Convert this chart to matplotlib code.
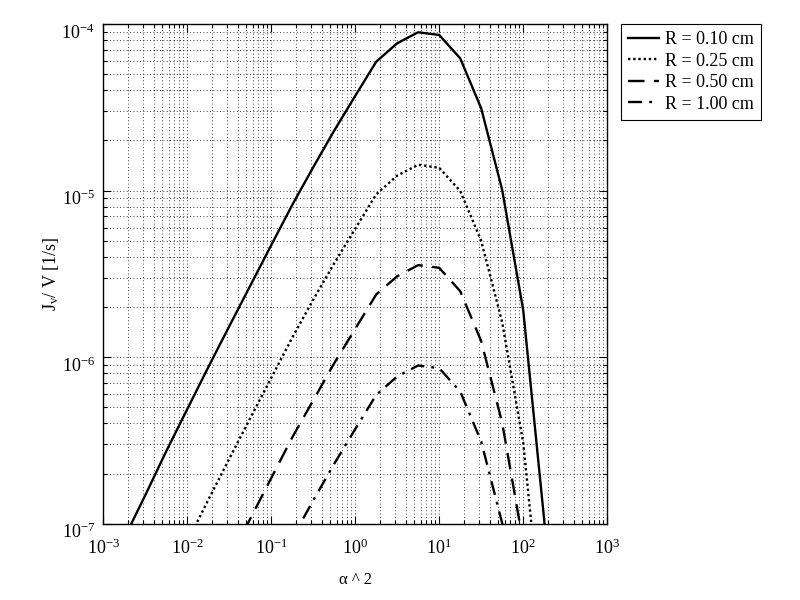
import numpy as np
import matplotlib.pyplot as plt
import matplotlib.transforms as mtransforms
from matplotlib.ticker import LogLocator, NullFormatter

plt.rcParams['font.family'] = ['Liberation Serif', 'DejaVu Serif']
plt.rcParams['mathtext.fontset'] = 'custom'
plt.rcParams['mathtext.rm'] = 'Liberation Serif'
plt.rcParams['mathtext.it'] = 'Liberation Serif:italic'

# =============================
# Data
# =============================

alpha2 = [1.0e-3, 1.78e-3, 3.16e-3, 5.62e-3,
          1.0e-2, 1.78e-2, 3.16e-2, 5.62e-2,
          1.0e-1, 1.78e-1, 3.16e-1, 5.62e-1,
          1.0, 1.78, 3.16, 5.62,
          10.0, 17.8, 31.6, 56.2,
          100.0, 178.0, 316.0]

jv_r010 = [4.6e-8, 8.2e-8, 1.48e-7, 2.72e-7, 4.87e-7, 8.7e-7, 1.53e-6, 2.68e-6,
           4.7e-6, 8.2e-6, 1.38e-5, 2.29e-5, 3.7e-5, 5.94e-5, 7.66e-5, 8.92e-5,
           8.59e-5, 6.22e-5, 3.12e-5, 1.01e-5, 1.92e-6, 1.05e-7, 1e-9]

jv_r025 = [7.4e-9, 1.31e-8, 2.37e-8, 4.35e-8, 7.8e-8, 1.39e-7, 2.45e-7, 4.3e-7,
           7.5e-7, 1.31e-6, 2.21e-6, 3.66e-6, 5.9e-6, 9.5e-6, 1.23e-5, 1.43e-5,
           1.37e-5, 9.95e-6, 5.0e-6, 1.62e-6, 3.07e-7, 1.7e-8, 1.6e-10]

jv_r050 = [1.84e-9, 3.3e-9, 5.9e-9, 1.09e-8, 1.95e-8, 3.5e-8, 6.1e-8, 1.07e-7,
           1.88e-7, 3.3e-7, 5.5e-7, 9.2e-7, 1.48e-6, 2.38e-6, 3.06e-6, 3.57e-6,
           3.44e-6, 2.49e-6, 1.25e-6, 4.04e-7, 7.7e-8, 4.2e-9, 4e-11]

jv_r100 = [4.6e-10, 8.2e-10, 1.48e-9, 2.72e-9, 4.87e-9, 8.7e-9, 1.53e-8, 2.68e-8,
           4.7e-8, 8.2e-8, 1.38e-7, 2.29e-7, 3.7e-7, 5.94e-7, 7.66e-7, 8.92e-7,
           8.59e-7, 6.22e-7, 3.12e-7, 1.01e-7, 1.92e-8, 1.05e-9, 1e-11]

labels = ['R = 0.10 cm', 'R = 0.25 cm', 'R = 0.50 cm', 'R = 1.00 cm']

# =============================
# Plot
# =============================

fig = plt.figure(figsize=(8, 6), dpi=100)
ax = fig.add_axes([0.129, 0.127, 0.630, 0.833])

ax.plot(alpha2, jv_r010, color='k', lw=1.7, linestyle='-', label=labels[0])
ax.plot(alpha2, jv_r025, color='k', lw=1.7, linestyle=(0, (1, 1.2)), label=labels[1])
ax.plot(alpha2, jv_r050, color='k', lw=1.7, linestyle=(0, (7, 4)), label=labels[2])
ax.plot(alpha2, jv_r100, color='k', lw=1.7, linestyle=(0, (6, 3, 1.2, 3)), label=labels[3])

ax.set_xscale('log')
ax.set_yscale('log')
ax.set_xlim(1e-3, 1e3)
ax.set_ylim(1e-7, 1e-4)

ax.xaxis.set_major_locator(LogLocator(base=10, numticks=10))
ax.xaxis.set_minor_locator(LogLocator(base=10, subs=np.arange(2, 10), numticks=100))
ax.yaxis.set_minor_locator(LogLocator(base=10, subs=np.arange(2, 10), numticks=100))
ax.xaxis.set_minor_formatter(NullFormatter())
ax.yaxis.set_minor_formatter(NullFormatter())

ax.grid(True, which='both', color='k', linestyle=(0, (1, 3)), linewidth=0.6)
ax.tick_params(which='both', direction='in', top=True, right=True, colors='k',
               labelsize=13)
ax.tick_params(which='major', length=6, width=0.8)
ax.tick_params(which='minor', length=3, width=0.8)
ax.tick_params(axis='x', which='major', pad=11)
ax.tick_params(axis='y', which='major', pad=6)
for s in ax.spines.values():
    s.set_linewidth(1.0)

# y tick labels sit a little below their ticks, MATLAB style
shift = mtransforms.ScaledTranslation(0, -5 / 72, fig.dpi_scale_trans)
for lbl in ax.get_yticklabels():
    lbl.set_transform(lbl.get_transform() + shift)

ax.set_xlabel('α ^ 2', fontsize=12, labelpad=10)
ax.set_ylabel(r'J$_{\mathrm{v}}$/ V [1/s]', fontsize=13, labelpad=0)

leg = ax.legend(loc='upper left', bbox_to_anchor=(0.776, 0.96),
                bbox_transform=fig.transFigure, fontsize=13, frameon=True,
                fancybox=False, edgecolor='k', framealpha=1, handlelength=1.7,
                borderpad=0.4, labelspacing=0.25, handletextpad=0.35,
                borderaxespad=0)
leg.get_frame().set_linewidth(0.8)

fig.savefig('out.png', dpi=100)
